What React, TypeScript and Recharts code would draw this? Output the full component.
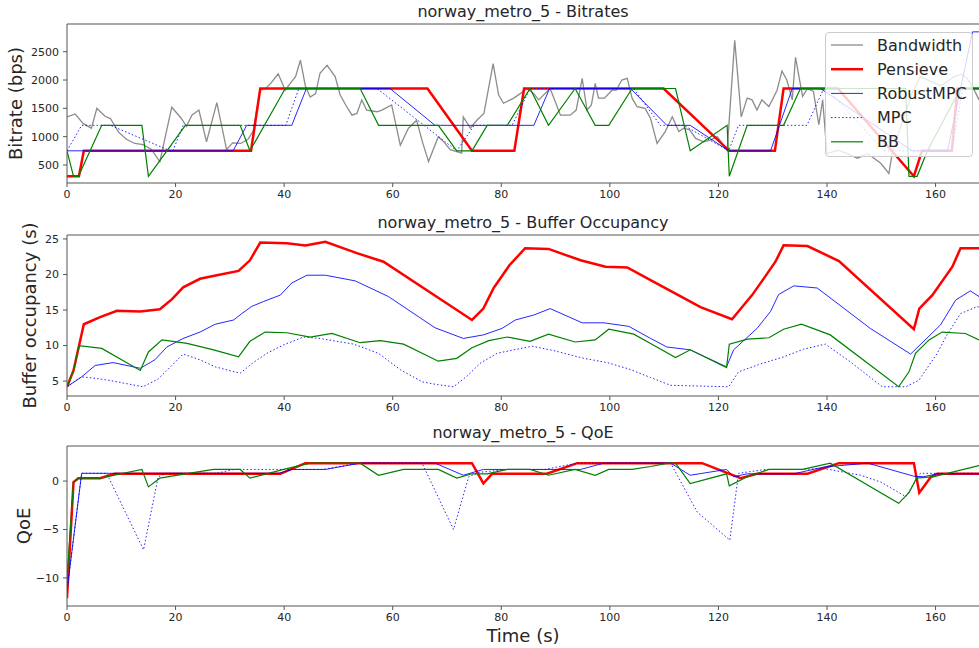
import React from "react";
import { LineChart, Line, XAxis, YAxis, ReferenceLine, Legend } from "recharts";

type Pt = [number, number];

const FONT = "'DejaVu Sans', sans-serif";
const AXIS = "#555555";
const TEXT = "#262626";

const traceName = "norway_metro_5";
const xTicks = [0, 20, 40, 60, 80, 100, 120, 140, 160];
const bitrateTicks = [500, 1000, 1500, 2000, 2500];
const bufferTicks = [5, 10, 15, 20, 25];
const qoeTicks = [-10, -5, 0];

// ---- bitrate panel (kbps) ----
const bandwidth: Pt[] = [
  [0, 1350], [1.5, 1400], [3, 1230], [4.5, 1150], [5.5, 1500], [7, 1360], [8, 1320], [9.5, 1080],
  [11, 950], [12.5, 880], [14, 860], [15.5, 780], [17.1, 560], [19.3, 1520], [21, 1330], [22, 1180],
  [23, 1380], [24.3, 1470], [25.7, 910], [27.6, 1600], [29.4, 770], [30.5, 890], [32, 880], [33.3, 950],
  [34.3, 1100], [35.6, 1820], [36.6, 1850], [37.6, 1950], [38.9, 2110], [40.2, 1820], [41.2, 1950],
  [42.1, 2060], [43, 2350], [43.9, 1900], [44.8, 1700], [45.8, 1760], [46.6, 2120], [47.9, 2260],
  [49.4, 2060], [50.3, 1740], [51.4, 1550], [52.5, 1380], [53.4, 1410], [54.3, 1650], [55.2, 1470],
  [57.1, 1440], [58, 1470], [59.8, 1560], [61.4, 850], [62.9, 1150], [64.4, 1290], [65.5, 900],
  [66.6, 560], [68.4, 1000], [69.5, 900], [70.6, 770], [72.7, 710], [73, 1350], [74.3, 1150],
  [75.5, 1290], [76.8, 1410], [78.5, 2290], [79.5, 1740], [80.4, 1590], [82.3, 1680], [83.5, 1760],
  [84.7, 1850], [86, 1760], [86.9, 1650], [89, 1850], [90.9, 1380], [92.7, 1380], [93.8, 1470],
  [94.9, 2030], [95.8, 1470], [96.6, 1560], [97.3, 1940], [97.9, 1680], [99, 1680], [100.4, 1820],
  [101.2, 1820], [102.2, 2000], [103.2, 2030], [104.1, 1680], [105, 1530], [106.5, 1500], [107.5, 1320],
  [108.7, 880], [110.2, 1090], [111.5, 1350], [112.7, 1090], [113.6, 1150], [114.7, 1120], [115.8, 970],
  [117.3, 910], [118.5, 940], [119.8, 1000], [121.6, 750], [123, 2700], [124.2, 1350], [125.3, 1680],
  [126.2, 1650], [127.1, 1470], [128, 1650], [129.3, 1530], [130.8, 1820], [131.7, 2160], [132.6, 2000],
  [133.6, 1650], [134.2, 2400], [135.5, 1710], [136.4, 1850], [137.5, 1800], [138.5, 1210], [139.2, 1650],
  [140, 700], [142, 760], [143.8, 700], [145.6, 620], [147.5, 700], [149.9, 530], [151.4, 350],
  [152, 700], [154, 1300], [155.6, 1750], [157.2, 2060], [159, 1980], [161, 1900], [163.4, 2060],
  [164.8, 2100], [165.8, 2030], [167, 1850], [168, 1650],
];

const pensieveBitrate: Pt[] = [
  [0, 300], [2.2, 300], [3.1, 750], [33.9, 750], [35.6, 1850], [66.4, 1850], [74.6, 750], [82.4, 750],
  [84.2, 1850], [109.9, 1850], [122, 750], [130.4, 750], [132, 1850], [142, 1850], [156, 300],
  [157.5, 750], [163, 750], [164, 1850], [168, 1850],
];

const robustBitrate: Pt[] = [
  [0, 750], [30.6, 750], [33.1, 1200], [41.4, 1200], [44.1, 1850], [59.5, 1850], [67.8, 1200],
  [86, 1200], [88.9, 1850], [103.8, 1850], [110.5, 1200], [114.8, 1200], [121.9, 750], [129.6, 750],
  [133.6, 1850], [138.8, 1850], [155.7, 750], [162.2, 750], [166.8, 2850], [168, 2850],
];

const mpcBitrate: Pt[] = [
  [0, 750], [2.7, 1200], [8, 1200], [19, 750], [19.5, 750], [21.4, 1200], [40.3, 1200], [42.7, 1850],
  [57.1, 1850], [71.8, 750], [75, 1200], [82, 1200], [85.3, 1850], [104.4, 1850], [109.3, 1200],
  [113.6, 1200], [121.9, 750], [123.7, 1200], [136.3, 1200], [139.4, 1850], [140, 1850], [150.5, 750],
  [163, 750], [165, 1850], [168, 1850],
];

const bbBitrate: Pt[] = [
  [0, 750], [1.2, 300], [2.1, 300], [6.4, 1200], [13.8, 1200], [15, 300], [21.8, 1200], [31.9, 1200],
  [33.7, 750], [40.2, 1850], [54, 1850], [57.4, 1200], [68.4, 1200], [71.8, 750], [74.6, 750],
  [77.4, 1200], [81.1, 1200], [85.3, 1850], [88.7, 1200], [93.6, 1850], [97.3, 1200], [99.8, 1200],
  [104.1, 1850], [112.1, 1850], [114.8, 750], [121.6, 1200], [122, 300], [125.3, 1200], [132, 1200],
  [135.1, 1850], [154.5, 1850], [155.1, 300], [156.6, 300], [158.5, 750], [164.6, 1850], [168, 1850],
];

// ---- buffer panel (s) ----
const pensieveBuffer: Pt[] = [
  [0, 4.2], [1.2, 6.5], [3.1, 13.0], [6.1, 14.0], [9.2, 14.9], [13.5, 14.8], [17.1, 15.1], [19.3, 16.5],
  [21.4, 18.2], [24.5, 19.4], [27.6, 19.9], [31.6, 20.5], [33.7, 22.0], [35.6, 24.5], [40.5, 24.4],
  [43.9, 24.1], [47.6, 24.6], [53.4, 23.0], [58.3, 21.8], [74.6, 13.6], [76.7, 15.2], [78.6, 18.1],
  [81.5, 21.3], [84.4, 23.7], [88.7, 23.6], [94.6, 22.0], [99.2, 21.1], [103.2, 21.0], [107.5, 19.2],
  [116.7, 15.4], [122.5, 13.7], [126.2, 17.1], [128.5, 19.6], [130.5, 21.8], [132, 24.1], [136.4, 24.0],
  [142.2, 21.9], [156, 12.3], [157, 15.2], [159.4, 17.1], [163.1, 21.1], [164.6, 23.7], [168, 23.7],
];

const robustBuffer: Pt[] = [
  [0, 4.2], [2.7, 5.6], [5.2, 7.2], [8.5, 7.6], [13.5, 6.8], [16.2, 8.0], [18.4, 9.8], [21.4, 11.0],
  [24.5, 11.9], [27.3, 13.0], [30.7, 13.6], [32.2, 14.5], [34, 15.5], [36.2, 16.2], [39.3, 17.1],
  [41.4, 18.8], [44.2, 19.9], [47.6, 19.9], [53.1, 19.1], [59.2, 16.9], [67.8, 12.5], [73, 11.0],
  [76.7, 11.5], [80.1, 12.4], [82.6, 13.6], [86, 14.3], [89, 15.2], [94.9, 13.2], [98.9, 13.2],
  [103.5, 12.7], [107.5, 11.0], [110.5, 9.8], [114.8, 9.4], [121.5, 7.0], [122.8, 9.4], [127.1, 12.4],
  [129.6, 14.8], [131.1, 17.2], [133.9, 18.4], [138.2, 18.1], [148, 12.4], [155.4, 8.8], [160.9, 12.9],
  [163.7, 16.4], [166.4, 17.7], [168, 16.9],
];

const mpcBuffer: Pt[] = [
  [0, 4.2], [2.7, 5.6], [6.1, 5.3], [8.5, 5.0], [14, 4.2], [16.8, 5.3], [18.4, 6.5], [21.4, 8.8],
  [24.5, 8.0], [27.3, 7.0], [31.9, 6.1], [34.3, 7.6], [36.8, 8.9], [39.9, 10.1], [43.6, 11.2],
  [46.6, 11.0], [52.8, 10.2], [57.4, 8.9], [61.4, 6.6], [65.4, 4.9], [68.2, 4.5], [71.2, 4.2],
  [73.7, 5.7], [76.1, 7.5], [79.2, 8.9], [82.3, 9.4], [85.7, 9.9], [89.6, 9.3], [95.2, 8.2],
  [99.5, 7.6], [103.5, 6.7], [107.5, 5.5], [111.2, 4.4], [121.9, 4.2], [123.7, 6.3], [127.7, 7.4],
  [132, 8.4], [135.7, 9.5], [139.7, 10.2], [144.3, 7.7], [150.2, 4.2], [154.5, 4.2], [156.9, 5.1],
  [160.3, 8.9], [162.1, 11.5], [164.6, 14.5], [167.7, 15.5], [168, 15.4],
];

const bbBuffer: Pt[] = [
  [0, 4.2], [1.2, 6.5], [2.2, 10.0], [6.4, 9.6], [13.5, 6.5], [15, 9.1], [17.5, 10.8], [22.1, 10.3],
  [27, 9.4], [31.6, 8.4], [33.7, 10.6], [36.5, 11.9], [40.5, 11.8], [44.8, 11.2], [48.8, 11.7],
  [54, 10.4], [57.7, 10.7], [62, 10.2], [68.4, 7.8], [71.8, 8.2], [74.6, 9.7], [77.7, 10.7],
  [81.1, 11.2], [85.3, 10.6], [88.7, 11.6], [93.6, 10.5], [97.3, 10.8], [99.8, 12.3], [104.4, 11.6],
  [107.5, 10.3], [112.1, 8.3], [114.8, 9.4], [121.5, 6.9], [122, 10.2], [125.3, 10.9], [129.3, 11.1],
  [132, 12.3], [135.3, 13.0], [140.6, 11.5], [153.2, 4.2], [155.1, 6.3], [156.3, 8.9], [158.8, 10.8],
  [161.2, 11.9], [165.5, 11.7], [168, 10.8],
];

// ---- QoE panel ----
const pensieveQoe: Pt[] = [
  [0, -12.1], [1.2, -0.1], [2.1, 0.3], [6.1, 0.3], [8.8, 0.75], [39.3, 0.75], [43.9, 1.85],
  [74.6, 1.85], [76.7, -0.25], [78.3, 0.75], [88.4, 0.75], [94, 1.85], [117, 1.85], [124.1, 0.3],
  [127.1, 0.75], [136.4, 0.75], [142.2, 1.85], [156, 1.85], [157, -1.2], [159.1, 0.4], [160.3, 0.75],
  [168, 0.75],
];

const robustQoe: Pt[] = [
  [0, -11.3], [2.7, 0.8], [39, 0.8], [41.4, 1.2], [47.6, 1.2], [54, 1.85], [67.8, 1.85], [73, 0.6],
  [76.7, 1.2], [94.6, 1.2], [98.9, 1.85], [111.2, 1.85], [114.8, 0.6], [121.5, 1.2], [122.8, 0.45],
  [125.3, 0.75], [133.9, 0.75], [139.4, 1.45], [147.5, 1.85], [156, 0.5], [157.8, 0.45], [160.3, 0.75],
  [168, 0.75],
];

const mpcQoe: Pt[] = [
  [0, -11.3], [2.7, 0.8], [7.3, 0.8], [14.1, -7.1], [16.8, 0.45], [18.4, 0.8], [27.6, 0.8], [30.7, 1.2],
  [47, 1.2], [54, 1.85], [65.4, 1.85], [71.2, -5.0], [74, 0.45], [76, 0.9], [81, 1.2], [88, 1.2],
  [94, 1.85], [111.2, 1.85], [116.1, -3.2], [122.1, -6.1], [123.7, 0.8], [128.7, 1.2], [135.1, 1.2],
  [139.4, 1.3], [146.2, 0.6], [149.9, -0.1], [154.5, -1.6], [157.2, 0.8], [168, 0.8],
];

const bbQoe: Pt[] = [
  [0, -10.2], [1.2, -0.1], [2.1, 0.3], [6.1, 0.3], [13.8, 1.2], [15, -0.6], [17.1, 0.3], [21.8, 0.75],
  [27, 1.2], [31.9, 1.2], [33.7, 0.3], [39.9, 1.2], [44.8, 1.85], [54, 1.85], [57.4, 0.6], [62, 1.2],
  [68.4, 1.2], [71.8, 0.3], [74.6, 0.75], [77.4, 0.75], [81.1, 1.2], [85.3, 1.2], [88.7, 0.6],
  [93.6, 1.2], [97.3, 0.6], [99.8, 1.2], [104.1, 1.2], [107.5, 1.5], [110.8, 1.85], [112.1, 1.85],
  [114.8, -0.25], [121.5, 0.75], [122, -0.5], [125.3, 0.45], [129.3, 1.2], [135.5, 1.2], [140.6, 1.85],
  [153.2, -2.3], [155.1, -1.2], [156.5, 0.3], [159.7, 0.45], [168, 1.6],
];

type Style = { stroke: string; width: number; dash?: string; opacity?: number };
const STYLES: Record<string, Style> = {
  Bandwidth: { stroke: "#808080", width: 1.3, opacity: 0.9 },
  Pensieve: { stroke: "#ff0000", width: 2.5 },
  RobustMPC: { stroke: "#0000ff", width: 1, opacity: 0.85 },
  MPC: { stroke: "#0000ff", width: 1, dash: "1.5 2.2", opacity: 0.85 },
  BB: { stroke: "#008000", width: 1.2 },
};
const legendOrder = ["Bandwidth", "Pensieve", "RobustMPC", "MPC", "BB"];

const rows = (pts: Pt[]) => pts.map(([t, v]) => ({ t, v }));
const minus = (v: number) => String(v).replace("-", "\u2212");

const LegendBox = () => (
  <div
    style={{
      width: 148,
      height: 125,
      boxSizing: "border-box",
      background: "rgba(255,255,255,0.8)",
      border: "1px solid #cccccc",
      borderRadius: 4,
    }}
  >
    <svg width={146} height={123} style={{ display: "block" }}>
      {legendOrder.map((name, i) => {
        const s = STYLES[name];
        const cy = 12 + i * 24.2;
        return (
          <g key={name}>
            <line x1={5} x2={37} y1={cy} y2={cy} stroke={s.stroke} strokeWidth={s.width}
              strokeDasharray={s.dash} strokeOpacity={s.opacity ?? 1} />
            <text x={51} y={cy} dominantBaseline="central" fontSize={16} fontFamily={FONT} fill={TEXT}>
              {name}
            </text>
          </g>
        );
      })}
    </svg>
  </div>
);

interface PanelProps {
  top: number;
  plotH: number;
  domain: [number, number];
  ticks: number[];
  yLabel: string;
  labelX: number;
  series: { name: string; pts: Pt[] }[];
  legend?: boolean;
}

// room above each plot so rotated labels are not cut by the svg edge
const PAD = 30;
const AXIS_H = 40;

function Panel({ top, plotH, domain, ticks, yLabel, labelX, series, legend }: PanelProps) {
  return (
    <div style={{ position: "absolute", left: 0, top: top - PAD }}>
      <LineChart
        width={979}
        height={PAD + plotH + AXIS_H}
        margin={{ top: PAD, right: 0, bottom: 0, left: 0 }}
      >
        <XAxis
          dataKey="t"
          type="number"
          domain={[0, 168]}
          allowDataOverflow
          ticks={xTicks}
          height={AXIS_H}
          tickSize={4}
          tickMargin={3}
          axisLine={{ stroke: AXIS }}
          tickLine={{ stroke: AXIS }}
          tick={{ fill: TEXT, fontSize: 11, fontFamily: FONT }}
        />
        <YAxis
          type="number"
          domain={domain}
          allowDataOverflow
          ticks={ticks}
          width={67}
          tickSize={4}
          tickMargin={4}
          tickFormatter={minus}
          axisLine={{ stroke: AXIS }}
          tickLine={{ stroke: AXIS }}
          tick={{ fill: TEXT, fontSize: 11, fontFamily: FONT }}
          label={{
            content: ({ viewBox }: any) => {
              const cy = viewBox.y + viewBox.height / 2;
              return (
                <text x={labelX} y={cy} transform={`rotate(-90, ${labelX}, ${cy})`}
                  textAnchor="middle" fontSize={18} fontFamily={FONT} fill={TEXT}>
                  {yLabel}
                </text>
              );
            },
          }}
        />
        <ReferenceLine y={domain[1]} stroke={AXIS} />
        {series.map((s) => {
          const st = STYLES[s.name];
          return (
            <Line
              key={s.name}
              name={s.name}
              data={rows(s.pts)}
              dataKey="v"
              type="linear"
              stroke={st.stroke}
              strokeWidth={st.width}
              strokeDasharray={st.dash}
              strokeOpacity={st.opacity ?? 1}
              dot={false}
              activeDot={false}
              isAnimationActive={false}
            />
          );
        })}
        {legend && (
          <Legend
            layout="horizontal"
            verticalAlign="middle"
            content={() => <LegendBox />}
            wrapperStyle={{ left: 825, top: 32 - (top - PAD), width: 148, height: 125 }}
          />
        )}
      </LineChart>
    </div>
  );
}

export default function App() {
  return (
    <div style={{ position: "absolute", left: 0, top: 0, width: 979, height: 648, background: "#fff", overflow: "hidden" }}>
      <Panel
        top={24}
        plotH={159}
        domain={[182, 2989]}
        ticks={bitrateTicks}
        yLabel="Bitrate (bps)"
        labelX={21.5}
        legend
        series={[
          { name: "Bandwidth", pts: bandwidth },
          { name: "Pensieve", pts: pensieveBitrate },
          { name: "RobustMPC", pts: robustBitrate },
          { name: "MPC", pts: mpcBitrate },
          { name: "BB", pts: bbBitrate },
        ]}
      />
      <Panel
        top={235}
        plotH={161}
        domain={[2.9, 25.56]}
        ticks={bufferTicks}
        yLabel="Buffer occupancy (s)"
        labelX={36}
        series={[
          { name: "Pensieve", pts: pensieveBuffer },
          { name: "RobustMPC", pts: robustBuffer },
          { name: "MPC", pts: mpcBuffer },
          { name: "BB", pts: bbBuffer },
        ]}
      />
      <Panel
        top={446}
        plotH={160}
        domain={[-12.9, 3.62]}
        ticks={qoeTicks}
        yLabel="QoE"
        labelX={29.5}
        series={[
          { name: "Pensieve", pts: pensieveQoe },
          { name: "RobustMPC", pts: robustQoe },
          { name: "MPC", pts: mpcQoe },
          { name: "BB", pts: bbQoe },
        ]}
      />
      <svg width={979} height={648} style={{ position: "absolute", left: 0, top: 0, pointerEvents: "none" }}>
        <text x={523} y={17} textAnchor="middle" fontSize={16} fontFamily={FONT} fill={TEXT}>
          {`${traceName} - Bitrates`}
        </text>
        <text x={523} y={228} textAnchor="middle" fontSize={16} fontFamily={FONT} fill={TEXT}>
          {`${traceName} - Buffer Occupancy`}
        </text>
        <text x={523} y={438} textAnchor="middle" fontSize={16} fontFamily={FONT} fill={TEXT}>
          {`${traceName} - QoE`}
        </text>
        <text x={523} y={642} textAnchor="middle" fontSize={18} fontFamily={FONT} fill={TEXT}>
          Time (s)
        </text>
      </svg>
    </div>
  );
}
